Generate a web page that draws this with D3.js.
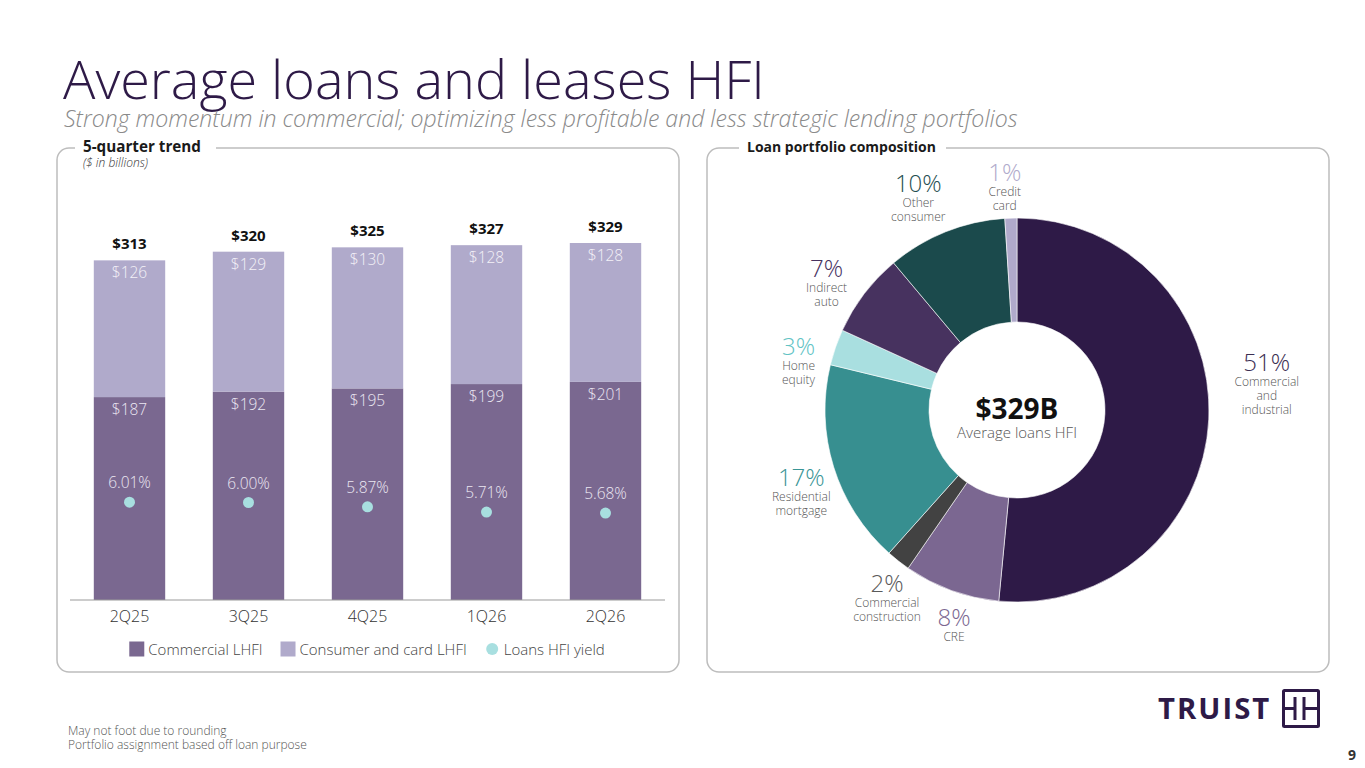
<!DOCTYPE html>
<html>
<head>
<meta charset="utf-8">
<script src="https://cdn.jsdelivr.net/npm/d3@7"></script>
<style>
  html, body { margin: 0; padding: 0; background: #fff; }
  svg { display: block; font-family: "Open Sans", Lato, sans-serif; }
</style>
</head>
<body>
<div id="chart"></div>
<script>
"use strict";

// 5-quarter trend ($ in billions)
const quarters = ["2Q25", "3Q25", "4Q25", "1Q26", "2Q26"];
const commercialLHFI = [187, 192, 195, 199, 201];
const consumerCardLHFI = [126, 129, 130, 128, 128];
const totalLHFI = [313, 320, 325, 327, 329];
const loansYield = [6.01, 6.00, 5.87, 5.71, 5.68];

// loan portfolio composition (%)
const portfolioNames = ["Commercial and industrial", "CRE", "Commercial construction",
  "Residential mortgage", "Home equity", "Indirect auto", "Other consumer", "Credit card"];
const portfolioLines = [["Commercial", "and", "industrial"], ["CRE"], ["Commercial", "construction"],
  ["Residential", "mortgage"], ["Home", "equity"], ["Indirect", "auto"], ["Other", "consumer"], ["Credit", "card"]];
const portfolioPct = [51, 8, 2, 17, 3, 7, 10, 1];
const portfolioTotal = "$329B";

const purple = "#2e1a47";
const sliceColors = ["#2e1a47", "#7b6791", "#424242", "#378f90", "#a9dfe0", "#47325f", "#1b4a4c", "#b0aacb"];
const pctColors = ["#3b2e52", "#7b6791", "#5a5a5a", "#3a9596", "#62c3c5", "#47325f", "#1f4f51", "#b0aacb"];

const W = 1365, H = 768;
const svg = d3.select("#chart").append("svg").attr("width", W).attr("height", H);

// scale a text's font size so it spans the wanted width
function fitWidth(sel, target) {
  const fs = parseFloat(sel.style("font-size"));
  const w = sel.node().getComputedTextLength();
  sel.style("font-size", (fs * target / w).toFixed(2) + "px");
}

// ---- title ----
const title = svg.append("text").attr("x", 63).attr("y", 99)
  .attr("fill", purple).style("font-size", "48px").style("font-weight", 300)
  .text("Average loans and leases HFI");
fitWidth(title, 702);
const subtitle = svg.append("text").attr("x", 64).attr("y", 127)
  .attr("fill", "#8a8a8a").style("font-size", "20px").style("font-style", "italic").style("font-weight", 300)
  .text("Strong momentum in commercial; optimizing less profitable and less strategic lending portfolios");
fitWidth(subtitle, 954);

// ---- panels ----
function drawPanel(x0, x1, title, gapFrom, gapTo, textW) {
  svg.append("rect").attr("x", x0).attr("y", 148).attr("width", x1 - x0).attr("height", 524)
    .attr("rx", 12).attr("fill", "none").attr("stroke", "#bdbdbd").attr("stroke-width", 1.5);
  svg.append("rect").attr("x", gapFrom).attr("y", 140).attr("width", gapTo - gapFrom).attr("height", 16)
    .attr("fill", "#fff");
  const t = svg.append("text").attr("x", gapFrom + 8).attr("y", 152)
    .style("font-size", "13px").style("font-weight", 700).attr("fill", "#1a1a1a").text(title);
  fitWidth(t, textW);
}
drawPanel(57, 679, "5-quarter trend", 75, 216, 118);
drawPanel(707, 1329, "Loan portfolio composition", 739, 946, 189);
svg.append("text").attr("x", 83).attr("y", 167)
  .style("font-size", "12px").style("font-style", "italic").style("font-weight", 300)
  .attr("fill", "#333").text("($ in billions)");

// ---- bar chart ----
const baseY = 600;
const x = d3.scaleBand().domain(quarters).range([70, 665]).paddingInner(0.4).paddingOuter(0.2);
const y = d3.scaleLinear().domain([0, 329]).range([baseY, 243]);
const yYield = d3.scaleLinear().domain([5.5, 6.5]).range([519, 486]);

const bars = svg.append("g");
const rows = quarters.map((q, i) => ({
  q: q, com: commercialLHFI[i], con: consumerCardLHFI[i], tot: totalLHFI[i], yld: loansYield[i]
}));

bars.selectAll(".com").data(rows).join("rect")
  .attr("x", d => x(d.q)).attr("width", x.bandwidth())
  .attr("y", d => y(d.com)).attr("height", d => baseY - y(d.com))
  .attr("fill", "#7a6890");
bars.selectAll(".con").data(rows).join("rect")
  .attr("x", d => x(d.q)).attr("width", x.bandwidth())
  .attr("y", d => y(d.com + d.con)).attr("height", d => y(d.com) - y(d.com + d.con))
  .attr("fill", "#b0aacb");

const cx = d => x(d.q) + x.bandwidth() / 2;
bars.selectAll(".lblCom").data(rows).join("text")
  .attr("x", cx).attr("y", d => y(d.com) + 18).attr("text-anchor", "middle")
  .attr("fill", "#ebe7f2").style("font-size", "15.5px").style("font-weight", 300).text(d => "$" + d.com);
bars.selectAll(".lblCon").data(rows).join("text")
  .attr("x", cx).attr("y", d => y(d.com + d.con) + 18).attr("text-anchor", "middle")
  .attr("fill", "#f4f2f8").style("font-size", "15.5px").style("font-weight", 300).text(d => "$" + d.con);
bars.selectAll(".lblTot").data(rows).join("text")
  .attr("x", cx).attr("y", d => y(d.com + d.con) - 11).attr("text-anchor", "middle")
  .attr("fill", "#111").style("font-size", "15px").style("font-weight", 700).text(d => "$" + d.tot);

bars.selectAll(".dot").data(rows).join("circle")
  .attr("cx", cx).attr("cy", d => yYield(d.yld)).attr("r", 5.5).attr("fill", "#a8dfe0");
bars.selectAll(".lblYld").data(rows).join("text")
  .attr("x", cx).attr("y", d => yYield(d.yld) - 14).attr("text-anchor", "middle")
  .attr("fill", "#ebe7f2").style("font-size", "15.5px").style("font-weight", 300).text(d => d.yld.toFixed(2) + "%");

const xAxis = svg.append("g").attr("transform", `translate(0,${baseY})`)
  .call(d3.axisBottom(x).tickSize(0).tickPadding(11));
xAxis.select(".domain").attr("stroke", "#9a9a9a").attr("d", "M70,0H665");
xAxis.selectAll("text").style("font-size", "16px").style("font-family", "'Open Sans', sans-serif")
  .style("font-weight", 300).attr("fill", "#333");

// legend
const legendItems = [
  {label: "Commercial LHFI", color: "#7a6890", shape: "square"},
  {label: "Consumer and card LHFI", color: "#b0aacb", shape: "square"},
  {label: "Loans HFI yield", color: "#a8dfe0", shape: "dot"}
];
const legend = svg.append("g");
let lx = 0;
legendItems.forEach(it => {
  const g = legend.append("g").attr("transform", `translate(${lx},0)`);
  if (it.shape === "square") {
    g.append("rect").attr("x", 0).attr("y", -7.5).attr("width", 15).attr("height", 15).attr("fill", it.color);
  } else {
    g.append("circle").attr("cx", 7.5).attr("cy", 0).attr("r", 6).attr("fill", it.color);
  }
  const t = g.append("text").attr("x", 19).attr("y", 5.5)
    .style("font-size", "15px").style("font-weight", 300).attr("fill", "#444").text(it.label);
  lx += 19 + t.node().getComputedTextLength() + 18;
});
legend.attr("transform", `translate(${367 - (lx - 18) / 2},649)`);

// ---- donut ----
const dcx = 1017, dcy = 410;
const rIn = 88, rOut = 192, rLabel = 228;
const pie = d3.pie().sort(null).value(d => d.pct);
const slices = pie(portfolioNames.map((n, i) => ({name: n, pct: portfolioPct[i], lines: portfolioLines[i], i: i})));
const arc = d3.arc().innerRadius(rIn).outerRadius(rOut);

const donut = svg.append("g").attr("transform", `translate(${dcx},${dcy})`);
donut.selectAll("path").data(slices).join("path")
  .attr("d", arc).attr("fill", d => sliceColors[d.data.i])
  .attr("stroke", "#fff").attr("stroke-width", 0.6);

// labels sit on a ring outside the donut at each slice's mid angle, nudged where the slide does
const labelShift = {
  "Commercial and industrial": [22, -36], "CRE": [15, 2], "Commercial construction": [11, 10],
  "Residential mortgage": [2, 15], "Home equity": [-3, 27], "Indirect auto": [-9, 12],
  "Other consumer": [-14, 1], "Credit card": [-5, 6]
};
slices.forEach(s => {
  const a = (s.startAngle + s.endAngle) / 2;
  const sh = labelShift[s.data.name] || [0, 0];
  const bx = rLabel * Math.sin(a) + sh[0];
  const by = -rLabel * Math.cos(a) + sh[1];
  const n = s.data.lines.length;
  const h = 34 + 14 * (n - 1);
  const top = by - h / 2;
  const g = donut.append("g").attr("text-anchor", "middle");
  g.append("text").attr("x", bx).attr("y", top + 17)
    .style("font-size", "24px").style("font-weight", 300).attr("fill", pctColors[s.data.i])
    .text(s.data.pct + "%");
  s.data.lines.forEach((ln, k) => {
    g.append("text").attr("x", bx).attr("y", top + 32 + 14 * k)
      .style("font-size", "12px").style("font-weight", 300).attr("fill", "#555").text(ln);
  });
});

donut.append("text").attr("x", 0).attr("y", 9).attr("text-anchor", "middle")
  .style("font-size", "28px").style("font-weight", 700).attr("fill", "#111").text(portfolioTotal);
donut.append("text").attr("x", 0).attr("y", 28).attr("text-anchor", "middle")
  .style("font-size", "15px").style("font-weight", 300).attr("fill", "#555").text("Average loans HFI");

// ---- footer ----
svg.append("text").attr("x", 68).attr("y", 735).style("font-size", "12px").style("font-weight", 300)
  .attr("fill", "#555").text("May not foot due to rounding");
svg.append("text").attr("x", 68).attr("y", 749).style("font-size", "12px").style("font-weight", 300)
  .attr("fill", "#555").text("Portfolio assignment based off loan purpose");
svg.append("text").attr("x", 1356).attr("y", 760).attr("text-anchor", "end")
  .style("font-size", "14px").style("font-weight", 700).attr("fill", "#333").text("9");

// logo
const word = svg.append("text").attr("x", 1158).attr("y", 719)
  .style("font-size", "30px").style("font-weight", 700).style("letter-spacing", "2px")
  .attr("fill", purple).text("TRUIST");
fitWidth(word, 113);
const logo = svg.append("g").attr("fill", "none").attr("stroke", purple).attr("stroke-width", 3);
logo.append("rect").attr("x", 1283.5).attr("y", 690.5).attr("width", 35).attr("height", 36).attr("rx", 1);
logo.append("path").attr("d", "M1283.5,708.5H1295 M1295,697V720 M1304,697V720 M1304,708.5H1318.5");
</script>
</body>
</html>
